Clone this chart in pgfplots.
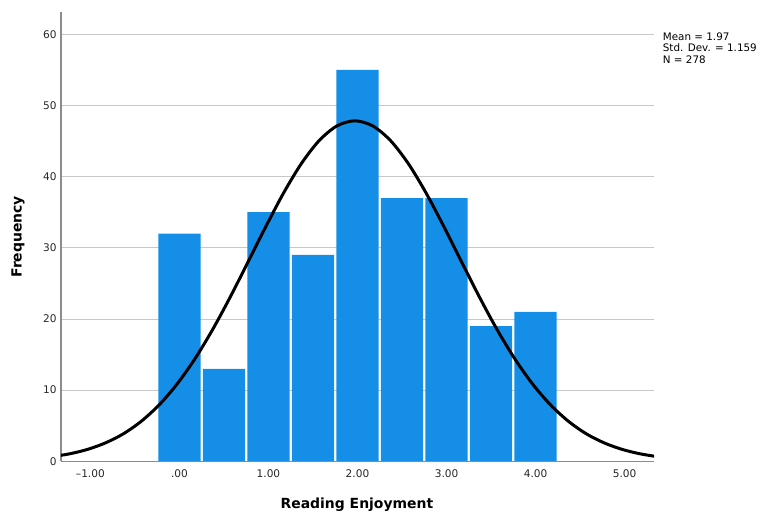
\documentclass[border=0pt]{standalone}
\usepackage{fontspec}
\setmainfont{DejaVu Sans}
\usepackage{pgfplots}
\pgfplotsset{compat=1.18}
\definecolor{spssblue}{RGB}{20,142,230}
\definecolor{gridgray}{RGB}{200,200,200}
\definecolor{axgray}{RGB}{140,140,140}
\begin{document}
\begin{tikzpicture}
\begin{axis}[
  at={(0,0)}, anchor=south west,
  width=593bp, height=449bp, scale only axis,
  xmin=-1.33, xmax=5.33, ymin=0, ymax=63.1,
  axis x line*=bottom, axis y line*=left,
  axis line style={axgray, line width=1.2bp, -},
  xtick={-1,0,1,2,3,4,5},
  xticklabels={–1.00,.00,1.00,2.00,3.00,4.00,5.00},
  ytick={0,10,20,30,40,50,60},
  yticklabels={0,10,20,30,40,50,60},
  major tick length=0pt,
  ymajorgrids, grid style={gridgray, line width=0.8bp},
  tick label style={font=\fontsize{10.6}{12}\selectfont, text=black!85},
  xticklabel style={yshift=-5bp},
  yticklabel style={xshift=-1bp},
  xlabel={Reading Enjoyment}, ylabel={Frequency},
  every axis x label/.style={at={(axis description cs:0.499,-0.0964)}, anchor=center, font=\bfseries\fontsize{14}{16}\selectfont},
  every axis y label/.style={at={(axis description cs:-0.0725,0.5)}, rotate=90, anchor=center, font=\bfseries\fontsize{14}{16}\selectfont},
]
\addplot[ybar, bar width=0.475, fill=spssblue, draw=none] coordinates {
(0,32) (0.5,13) (1,35) (1.5,29) (2,55) (2.5,37) (3,37) (3.5,19) (4,21)
};
\addplot[black, line width=3bp, smooth] coordinates {
(-1.43,0.65) (-1.23,1.06) (-1.03,1.68) (-0.83,2.59) (-0.63,3.86) (-0.43,5.61)
(-0.23,7.90) (-0.03,10.80) (0.17,14.33) (0.37,18.45) (0.57,23.07) (0.77,28.00)
(0.97,32.98) (1.17,37.71) (1.37,41.85) (1.57,45.08) (1.77,47.14) (1.97,47.85)
(2.17,47.14) (2.37,45.08) (2.57,41.85) (2.77,37.71) (2.97,32.98) (3.17,28.00)
(3.37,23.07) (3.57,18.45) (3.77,14.33) (3.97,10.80) (4.17,7.90) (4.37,5.61)
(4.57,3.86) (4.77,2.59) (4.97,1.68) (5.17,1.06) (5.37,0.65)
};
\draw[axgray, line width=1.2bp] (axis cs:-1.33,0) -- (axis cs:5.33,0);
\end{axis}
\node[anchor=north west, align=left, inner sep=0pt, font=\fontsize{10.4}{11.5}\selectfont]
  at (601.7bp,429bp) {Mean = 1.97\\Std. Dev. = 1.159\\N = 278};
\useasboundingbox (-61bp,-57.3bp) rectangle (699bp,461.3bp);
\end{tikzpicture}
\end{document}
